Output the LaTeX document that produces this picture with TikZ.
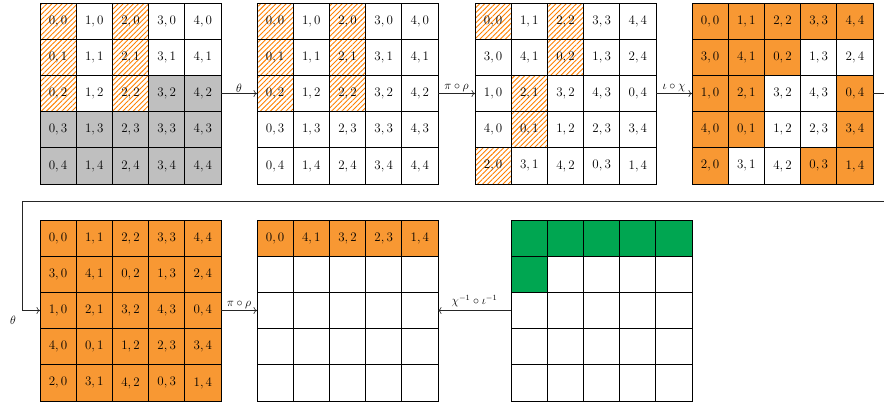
\documentclass[tikz,border=0pt]{standalone}
\usetikzlibrary{patterns.meta,arrows.meta}
\definecolor{cellorange}{RGB}{248,152,51}
\definecolor{hatchorange}{RGB}{255,128,0}
\definecolor{cellgreen}{RGB}{0,166,81}
\definecolor{cellgray}{RGB}{191,191,191}
\newcommand\pr[2]{#1,\,#2}
\newcommand\gridrow[5]{%
  \foreach \s/\t [count=\ci from 0] in {#5} {%
    \node[cell,\s] (#1-\ci-#4) at ({#2+36.2*\ci+18.1},{#3+36.2*#4+18.1}) {\t};
  }%
}
\tikzset{
  cell/.style={draw=black, line width=0.8pt, minimum size=36.2pt, inner sep=0pt, outer sep=0pt,
    font=\fontsize{13}{15}\selectfont},
  hatch/.style={pattern={Lines[angle=45,distance=3.6pt,line width=0.9pt]}, pattern color=hatchorange},
  org/.style={fill=cellorange},
  grn/.style={fill=cellgreen},
  gry/.style={fill=cellgray},
  wht/.style={fill=white},
  gridbox/.style={minimum size=181pt, inner sep=0pt, outer sep=0pt},
  conn/.style={line width=0.6pt, draw=black!85},
  arr/.style={conn, -{To[length=3.5pt,width=7pt]}},
  lab/.style={font=\fontsize{12}{14}\selectfont, inner sep=1pt}
}
\begin{document}
\begin{tikzpicture}[x=1pt,y=-1pt]
\useasboundingbox (0,0) rectangle (884,402);

% Grid 1
\gridrow{g1}{40}{3}{0}{hatch/{\pr00},wht/{\pr10},hatch/{\pr20},wht/{\pr30},wht/{\pr40}}
\gridrow{g1}{40}{3}{1}{hatch/{\pr01},wht/{\pr11},hatch/{\pr21},wht/{\pr31},wht/{\pr41}}
\gridrow{g1}{40}{3}{2}{hatch/{\pr02},wht/{\pr12},hatch/{\pr22},gry/{\pr32},gry/{\pr42}}
\gridrow{g1}{40}{3}{3}{gry/{\pr03},gry/{\pr13},gry/{\pr23},gry/{\pr33},gry/{\pr43}}
\gridrow{g1}{40}{3}{4}{gry/{\pr04},gry/{\pr14},gry/{\pr24},gry/{\pr34},gry/{\pr44}}
\node[gridbox] (G1) at (130.5,93.5) {};

% Grid 2
\gridrow{g2}{257}{3}{0}{hatch/{\pr00},wht/{\pr10},hatch/{\pr20},wht/{\pr30},wht/{\pr40}}
\gridrow{g2}{257}{3}{1}{hatch/{\pr01},wht/{\pr11},hatch/{\pr21},wht/{\pr31},wht/{\pr41}}
\gridrow{g2}{257}{3}{2}{hatch/{\pr02},wht/{\pr12},hatch/{\pr22},wht/{\pr32},wht/{\pr42}}
\gridrow{g2}{257}{3}{3}{wht/{\pr03},wht/{\pr13},wht/{\pr23},wht/{\pr33},wht/{\pr43}}
\gridrow{g2}{257}{3}{4}{wht/{\pr04},wht/{\pr14},wht/{\pr24},wht/{\pr34},wht/{\pr44}}
\node[gridbox] (G2) at (347.5,93.5) {};

% Grid 3
\gridrow{g3}{475}{3}{0}{hatch/{\pr00},wht/{\pr11},hatch/{\pr22},wht/{\pr33},wht/{\pr44}}
\gridrow{g3}{475}{3}{1}{wht/{\pr30},wht/{\pr41},hatch/{\pr02},wht/{\pr13},wht/{\pr24}}
\gridrow{g3}{475}{3}{2}{wht/{\pr10},hatch/{\pr21},wht/{\pr32},wht/{\pr43},wht/{\pr04}}
\gridrow{g3}{475}{3}{3}{wht/{\pr40},hatch/{\pr01},wht/{\pr12},wht/{\pr23},wht/{\pr34}}
\gridrow{g3}{475}{3}{4}{hatch/{\pr20},wht/{\pr31},wht/{\pr42},wht/{\pr03},wht/{\pr14}}
\node[gridbox] (G3) at (565.5,93.5) {};

% Grid 4
\gridrow{g4}{692}{3}{0}{org/{\pr00},org/{\pr11},org/{\pr22},org/{\pr33},org/{\pr44}}
\gridrow{g4}{692}{3}{1}{org/{\pr30},org/{\pr41},org/{\pr02},wht/{\pr13},wht/{\pr24}}
\gridrow{g4}{692}{3}{2}{org/{\pr10},org/{\pr21},wht/{\pr32},wht/{\pr43},org/{\pr04}}
\gridrow{g4}{692}{3}{3}{org/{\pr40},org/{\pr01},wht/{\pr12},wht/{\pr23},org/{\pr34}}
\gridrow{g4}{692}{3}{4}{org/{\pr20},wht/{\pr31},wht/{\pr42},org/{\pr03},org/{\pr14}}
\node[gridbox] (G4) at (782.5,93.5) {};

% Grid 5
\gridrow{g5}{40}{220}{0}{org/{\pr00},org/{\pr11},org/{\pr22},org/{\pr33},org/{\pr44}}
\gridrow{g5}{40}{220}{1}{org/{\pr30},org/{\pr41},org/{\pr02},org/{\pr13},org/{\pr24}}
\gridrow{g5}{40}{220}{2}{org/{\pr10},org/{\pr21},org/{\pr32},org/{\pr43},org/{\pr04}}
\gridrow{g5}{40}{220}{3}{org/{\pr40},org/{\pr01},org/{\pr12},org/{\pr23},org/{\pr34}}
\gridrow{g5}{40}{220}{4}{org/{\pr20},org/{\pr31},org/{\pr42},org/{\pr03},org/{\pr14}}
\node[gridbox] (G5) at (130.5,310.5) {};

% Grid 6
\gridrow{g6}{257}{220}{0}{org/{\pr00},org/{\pr41},org/{\pr32},org/{\pr23},org/{\pr14}}
\gridrow{g6}{257}{220}{1}{wht/{},wht/{},wht/{},wht/{},wht/{}}
\gridrow{g6}{257}{220}{2}{wht/{},wht/{},wht/{},wht/{},wht/{}}
\gridrow{g6}{257}{220}{3}{wht/{},wht/{},wht/{},wht/{},wht/{}}
\gridrow{g6}{257}{220}{4}{wht/{},wht/{},wht/{},wht/{},wht/{}}
\node[gridbox] (G6) at (347.5,310.5) {};

% Grid 7
\gridrow{g7}{511}{220}{0}{grn/{},grn/{},grn/{},grn/{},grn/{}}
\gridrow{g7}{511}{220}{1}{grn/{},wht/{},wht/{},wht/{},wht/{}}
\gridrow{g7}{511}{220}{2}{wht/{},wht/{},wht/{},wht/{},wht/{}}
\gridrow{g7}{511}{220}{3}{wht/{},wht/{},wht/{},wht/{},wht/{}}
\gridrow{g7}{511}{220}{4}{wht/{},wht/{},wht/{},wht/{},wht/{}}
\node[gridbox] (G7) at (601.5,310.5) {};

% Connectors
\draw[arr] (G1.east) -- node[lab, above] (l1) {$\theta$} (G2.west);
\draw[arr] (G2.east) -- node[lab, above] (l2) {$\pi\circ\rho$} (G3.west);
\draw[arr] (G3.east) -- node[lab, above] (l3) {$\iota\circ\chi$} (G4.west);
\coordinate (L1) at (900,93.5);
\coordinate (L2) at (22,201.5);
\draw[arr] (G4.east) -- (L1) |- (L2) |- (G5.west);
\node[lab] (l4) at (13,320) {$\theta$};
\draw[arr] (G5.east) -- node[lab, above] (l5) {$\pi\circ\rho$} (G6.west);
\draw[arr] (G7.west) -- node[lab, above, yshift=2pt] (l6) {$\chi^{-1}\circ\iota^{-1}$} (G6.east);
\end{tikzpicture}
\end{document}
